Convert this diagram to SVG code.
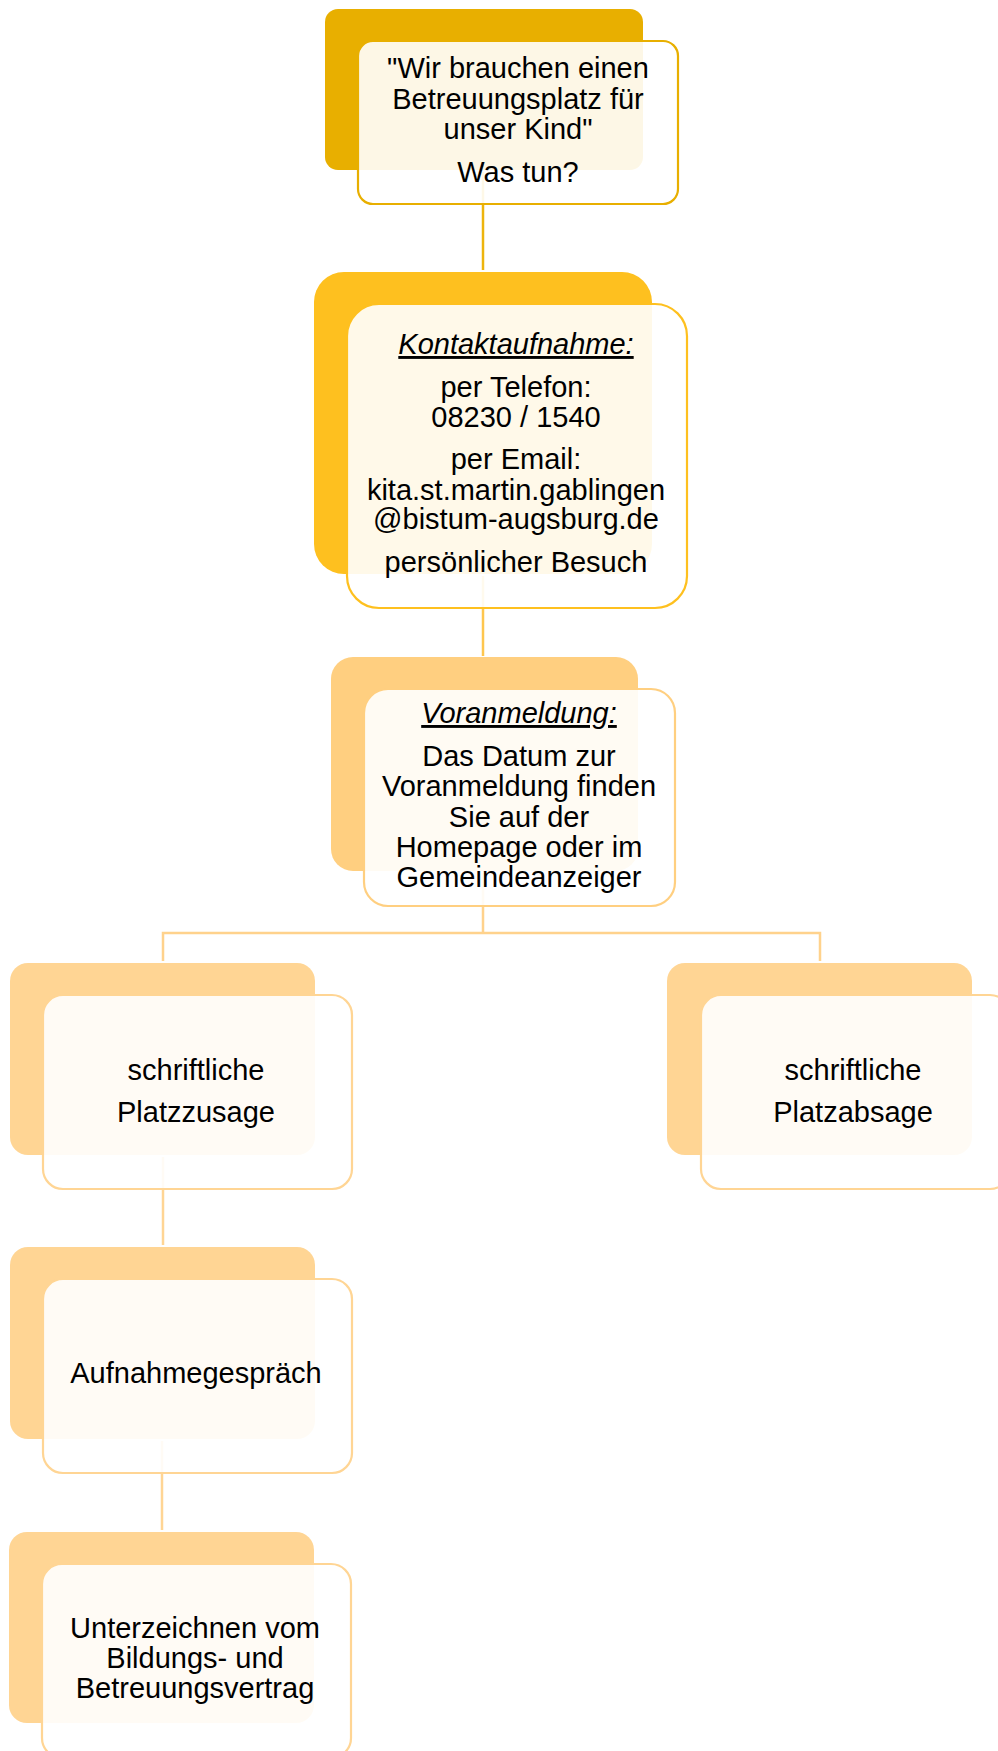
<svg xmlns="http://www.w3.org/2000/svg" width="998" height="1751" viewBox="0 0 998 1751">
<style>
text{font-family:"Liberation Sans",Arial,sans-serif;font-size:29px;fill:#000;text-anchor:middle}
.it{font-style:italic;text-decoration:underline}
.front{fill:#fff;fill-opacity:0.9;stroke-width:2.2}
.conn{fill:none;stroke-width:2.5}
</style>
<rect width="998" height="1751" fill="#fff"/>
<g id="connectors">
<path class="conn" stroke="#EDB40C" d="M483 172V270"/>
<path class="conn" stroke="#FEC64E" d="M483 576V656"/>
<path class="conn" stroke="#FFD28C" d="M483 873V933M163 961V933H820V961"/>
<path class="conn" stroke="#FFD594" d="M163 1157V1245"/>
<path class="conn" stroke="#FFD594" d="M162 1441V1530"/>
</g>
<g id="n1">
<rect x="325" y="9" width="318" height="161" rx="13" fill="#E8AF00"/>
<rect class="front" x="358" y="41" width="320" height="163" rx="15" stroke="#E8AF00"/>
<text x="518" y="78">"Wir brauchen einen</text>
<text x="518" y="109">Betreuungsplatz für</text>
<text x="518" y="139">unser Kind"</text>
<text x="518" y="182">Was tun?</text>
</g>
<g id="n2">
<rect x="314" y="272" width="338" height="302" rx="30" fill="#FEC01F"/>
<rect class="front" x="347" y="304" width="340" height="304" rx="32" stroke="#FEC01F"/>
<text class="it" x="516" y="354">Kontaktaufnahme:</text>
<text x="516" y="397">per Telefon:</text>
<text x="516" y="427">08230 / 1540</text>
<text x="516" y="469">per Email:</text>
<text x="516" y="500">kita.st.martin.gablingen</text>
<text x="516" y="529">@bistum-augsburg.de</text>
<text x="516" y="572">persönlicher Besuch</text>
</g>
<g id="n3">
<rect x="331" y="657" width="307" height="214" rx="22" fill="#FFCF80"/>
<rect class="front" x="364" y="689" width="311" height="217" rx="24" stroke="#FFCF80"/>
<text class="it" x="519" y="723">Voranmeldung:</text>
<text x="519" y="766">Das Datum zur</text>
<text x="519" y="796">Voranmeldung finden</text>
<text x="519" y="827">Sie auf der</text>
<text x="519" y="857">Homepage oder im</text>
<text x="519" y="887">Gemeindeanzeiger</text>
</g>
<g id="n4">
<rect x="10" y="963" width="305" height="192" rx="18" fill="#FFD594"/>
<rect class="front" x="43" y="995" width="309" height="194" rx="20" stroke="#FFD594"/>
<text x="196" y="1080">schriftliche</text>
<text x="196" y="1122">Platzzusage</text>
</g>
<g id="n5">
<rect x="667" y="963" width="305" height="192" rx="18" fill="#FFD594"/>
<rect class="front" x="701" y="995" width="309" height="194" rx="20" stroke="#FFD594"/>
<text x="853" y="1080">schriftliche</text>
<text x="853" y="1122">Platzabsage</text>
</g>
<g id="n6">
<rect x="10" y="1247" width="305" height="192" rx="18" fill="#FFD594"/>
<rect class="front" x="43" y="1279" width="309" height="194" rx="20" stroke="#FFD594"/>
<text x="196" y="1383">Aufnahmegespräch</text>
</g>
<g id="n7">
<rect x="9" y="1532" width="305" height="191" rx="18" fill="#FFD594"/>
<rect class="front" x="42" y="1564" width="309" height="194" rx="20" stroke="#FFD594"/>
<text x="195" y="1638">Unterzeichnen vom</text>
<text x="195" y="1668">Bildungs- und</text>
<text x="195" y="1698">Betreuungsvertrag</text>
</g>
</svg>
